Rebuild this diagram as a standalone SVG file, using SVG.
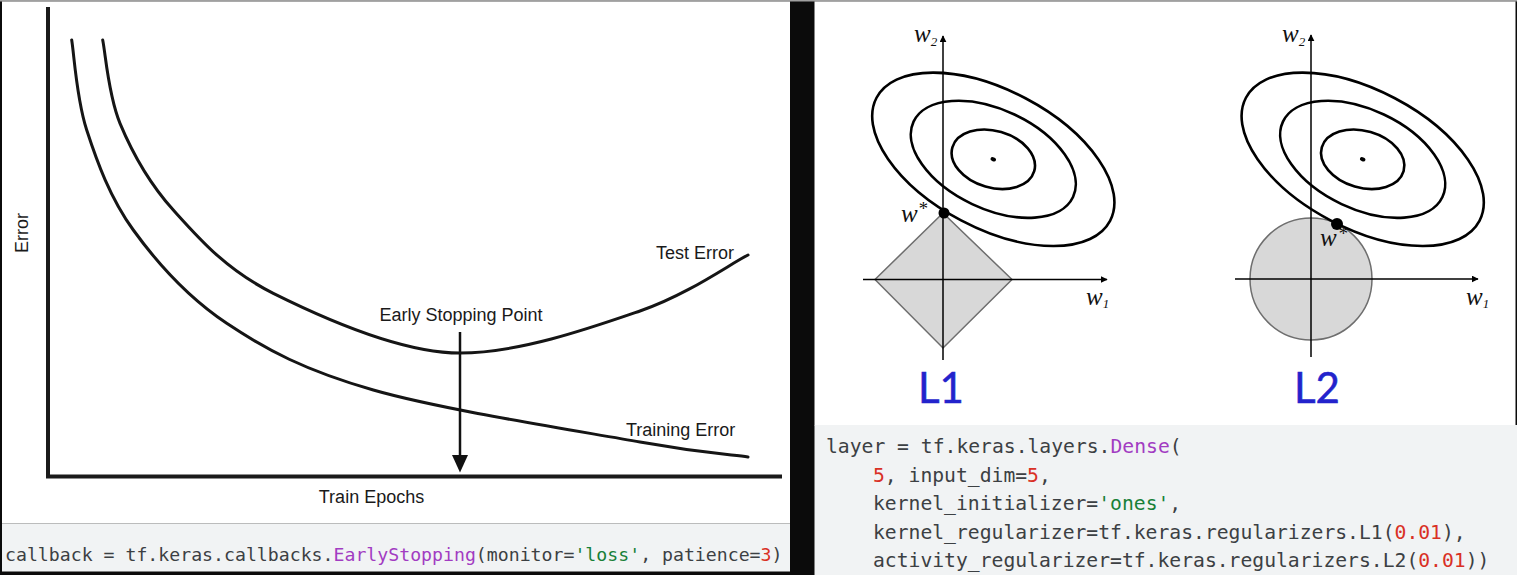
<svg xmlns="http://www.w3.org/2000/svg" xmlns:xlink="http://www.w3.org/1999/xlink" width="1517" height="575" viewBox="0 0 1517 575">
<style>
.lbl{font-family:"Liberation Sans",Arial,sans-serif;font-size:18px;fill:#1a1a1a}
.curve{fill:none;stroke:#151515;stroke-width:3;stroke-linecap:round}
.code{font-family:"DejaVu Sans Mono","Liberation Mono",monospace;fill:#3c4043}
.fn{fill:#a23cc2}
.str{fill:#188038}
.num{fill:#d93025}
.ell{fill:none;stroke:#000;stroke-width:2.6}
.ax{stroke:#000;stroke-width:1.5;fill:none}
.reg{fill:#d8d8d8;stroke:#6e6e6e;stroke-width:1.5}
.w{font-family:"Liberation Serif","Times New Roman",serif;font-style:italic;font-size:25px;fill:#111}
.sub{font-size:13px}
.star{font-size:19px}
.big{font-family:Lato,"Liberation Sans",sans-serif;font-size:42px;fill:#2323cc;stroke:#2323cc;stroke-width:0.5}
</style>
<defs>
<marker id="axArrow" viewBox="0 0 10 10" refX="9" refY="5" markerWidth="7" markerHeight="7" markerUnits="userSpaceOnUse" orient="auto">
<path d="M0,0 L10,5 L0,10 z" fill="#000"/>
</marker>
<g id="contours">
<ellipse class="ell" cx="0" cy="0" rx="132" ry="69" transform="rotate(27.8)"/>
<ellipse class="ell" cx="0" cy="0" rx="88.2" ry="49.5" transform="rotate(25.3)"/>
<ellipse class="ell" cx="0" cy="0" rx="42.6" ry="28.4" transform="rotate(16.2)"/>
<ellipse cx="0" cy="0" rx="2.8" ry="2" fill="#000" transform="rotate(20)"/>
</g>
</defs>

<rect x="0" y="0" width="1517" height="575" fill="#0b0b0b"/>
<rect x="0" y="0" width="1517" height="1.5" fill="#a0a0a0"/>

<g id="left-panel">
<rect x="2" y="1.5" width="788" height="522" fill="#ffffff"/>
<rect x="2" y="523.5" width="788" height="48" fill="#f1f3f4"/>
</g>
<g id="right-panel">
<rect x="814.5" y="1.5" width="701" height="424" fill="#ffffff"/>
<rect x="814.5" y="425" width="702.5" height="150" fill="#f1f3f4"/>
</g>

<g id="error-chart">
<path d="M48,7 V476.5 H782" fill="none" stroke="#1a1a1a" stroke-width="4"/>
<text class="lbl" transform="translate(28,233) rotate(-90)" text-anchor="middle">Error</text>
<text class="lbl" x="371.5" y="503" text-anchor="middle">Train Epochs</text>
</g>

<g id="training-error">
<path class="curve" d="M71.7,40 C74.2,55 76.4,98.3 86.7,130 C97,161.7 110,197.8 133.3,230 C156.6,262.2 186.7,296.6 226.7,323.3 C266.7,350 304.4,370.2 373.3,390 C442.2,409.8 577.6,430.8 640,442 C702.4,453.2 730,454.5 748,457"/>
<text class="lbl" x="626" y="436">Training Error</text>
</g>

<g id="test-error">
<path class="curve" d="M102.7,40 C105.6,53.9 108.2,95 120,123.3 C131.8,151.6 147.8,181.7 173.3,210 C198.9,238.3 225.5,269.5 273.3,293.3 C321.1,317.1 400,353 460,353 C520,353 592,327.5 640,311 C688,294.5 730,264 748,255"/>
<text class="lbl" x="656" y="259">Test Error</text>
</g>

<g id="early-stopping-point">
<text class="lbl" x="379.5" y="321">Early Stopping Point</text>
</g>

<g id="connectors">
<line x1="460" y1="332" x2="460" y2="458" stroke="#111" stroke-width="2.5"/>
<polygon points="452,455 468,455 460,472.5" fill="#111"/>
</g>

<g id="callback-code">
<text class="code" x="5" y="561" font-size="18.2">callback = tf.keras.callbacks.<tspan class="fn">EarlyStopping</tspan>(monitor=<tspan class="str">'loss'</tspan>, patience=<tspan class="num">3</tspan>)</text>
</g>

<g id="l1-diagram">
<polygon class="reg" points="943,213 1012,279.5 943,348 875,279.5"/>
<line class="ax" x1="863" y1="279.5" x2="1107" y2="279.5" marker-end="url(#axArrow)"/>
<line class="ax" x1="943" y1="360" x2="943" y2="36" marker-end="url(#axArrow)"/>
<use xlink:href="#contours" href="#contours" transform="translate(993.3,159.3)"/>
<circle cx="944" cy="213" r="5.5" fill="#000"/>
<text class="w" x="901" y="222">w<tspan class="star" dy="-7">*</tspan></text>
<text class="w" x="914" y="42">w<tspan class="sub" dy="4">2</tspan></text>
<text class="w" x="1086" y="305">w<tspan class="sub" dy="3">1</tspan></text>
<text class="big" x="918" y="403">L1</text>
</g>

<g id="l2-diagram">
<circle class="reg" cx="1311" cy="279" r="61"/>
<line class="ax" x1="1235" y1="279" x2="1478" y2="279" marker-end="url(#axArrow)"/>
<line class="ax" x1="1311" y1="357" x2="1311" y2="35" marker-end="url(#axArrow)"/>
<use xlink:href="#contours" href="#contours" transform="translate(1362.7,159.3)"/>
<circle cx="1337" cy="224" r="6" fill="#000"/>
<text class="w" x="1320" y="246">w<tspan class="star" dx="1" dy="-6">*</tspan></text>
<text class="w" x="1282" y="42">w<tspan class="sub" dy="4">2</tspan></text>
<text class="w" x="1466" y="305">w<tspan class="sub" dy="3">1</tspan></text>
<text class="big" x="1294" y="403">L2</text>
</g>

<g id="dense-code" font-size="19.7">
<text class="code" x="826" y="453">layer = tf.keras.layers.<tspan class="fn">Dense</tspan>(</text>
<text class="code" x="873" y="482"><tspan class="num">5</tspan>, input_dim=<tspan class="num">5</tspan>,</text>
<text class="code" x="873" y="510">kernel_initializer=<tspan class="str">'ones'</tspan>,</text>
<text class="code" x="873" y="539">kernel_regularizer=tf.keras.regularizers.L1(<tspan class="num">0.01</tspan>),</text>
<text class="code" x="873" y="567">activity_regularizer=tf.keras.regularizers.L2(<tspan class="num">0.01</tspan>))</text>
</g>
</svg>
